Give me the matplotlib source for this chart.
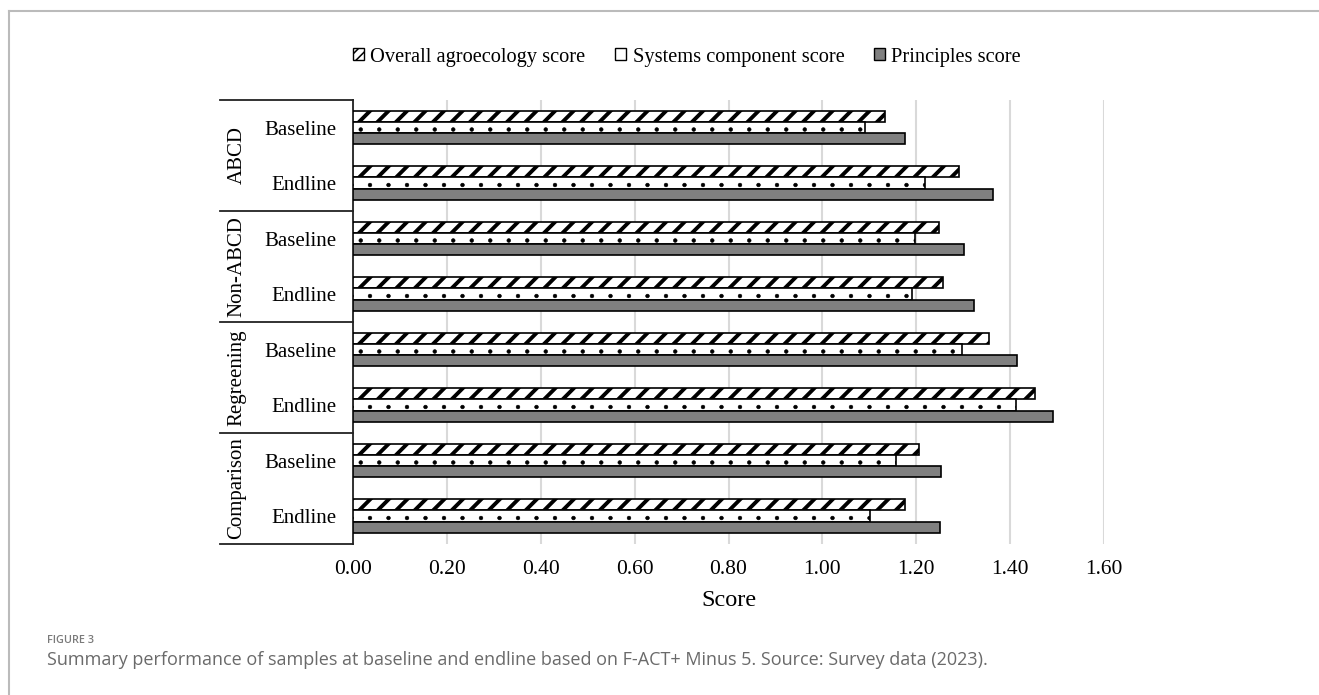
import numpy as np
import matplotlib
matplotlib.use("Agg")
import matplotlib.pyplot as plt
from matplotlib.patches import Patch
from matplotlib.lines import Line2D

# values (score, 0-1.6 scale)
groups = ["ABCD", "Non-ABCD", "Regreening", "Comparison"]
rounds = ["Baseline", "Endline"]
overall = [1.133, 1.292, 1.249, 1.257, 1.356, 1.452, 1.205, 1.177]
systems = [1.090, 1.219, 1.197, 1.191, 1.298, 1.412, 1.156, 1.101]
principles = [1.175, 1.363, 1.301, 1.322, 1.414, 1.492, 1.253, 1.251]
xticks = [0.0, 0.2, 0.4, 0.6, 0.8, 1.0, 1.2, 1.4, 1.6]
series_names = ["Overall agroecology score", "Systems component score", "Principles score"]

serif = "Liberation Serif"
W, H = 1319, 695
DPI = 111          # hatch cell = 1 inch, this makes the dot rows line up with the bars
K = 100 / DPI      # sizes below are written as points at 100 dpi
fig = plt.figure(figsize=(W / DPI + 1e-4, H / DPI + 1e-4), dpi=DPI)
ax = fig.add_axes([353 / W, 1 - 543.75 / H, (1104 - 353) / W, (543.75 - 99.75) / H])

y = np.arange(len(overall))
h = 0.2
grey = "#808080"

with plt.rc_context({"hatch.linewidth": 2.8 * K}):
    ax.barh(y - h, overall, height=h, color="white", edgecolor="black",
            hatch="//", linewidth=1.2 * K, zorder=3)
with plt.rc_context({"hatch.linewidth": 0.4 * K}):
    ax.barh(y, systems, height=h, color="white", edgecolor="black",
            hatch=".", linewidth=1.2 * K, zorder=3)
ax.barh(y + h, principles, height=h, color=grey, edgecolor="black",
        linewidth=1.2 * K, zorder=3)

ax.set_xlim(0, 1.6)
ax.set_ylim(len(overall) - 0.5, -0.5)
ax.set_xticks(xticks)
ax.set_xticklabels([f"{t:.2f}" for t in xticks], fontsize=15.5 * K, family=serif)
ax.tick_params(axis="x", length=0, pad=11.5 * K)
ax.set_yticks(y)
ax.set_yticklabels(rounds * len(groups), fontsize=15 * K, family=serif)
ax.tick_params(axis="y", length=0, pad=12 * K)
ax.grid(axis="x", color="#d9d9d9", linewidth=1.5 * K, zorder=0)
for s in ["top", "right", "bottom"]:
    ax.spines[s].set_visible(False)
ax.spines["left"].set_color("#222222")
ax.spines["left"].set_linewidth(1.3 * K)
ax.set_axisbelow(True)

ax.set_xlabel("Score", fontsize=17.5 * K, family=serif)
ax.xaxis.set_label_coords(0.5, -0.105)

# multi-level category box on the left
left = (220 - 353) / (1104 - 353)
trans = ax.get_yaxis_transform()
for b in np.arange(-0.5, len(overall), 2):
    ax.plot([left, 0], [b, b], color="#222222", lw=1.3 * K, transform=trans, clip_on=False)
for i, g in enumerate(groups):
    ax.text((237 - 353) / (1104 - 353), 2 * i + 0.5, g, rotation=90, ha="center",
            va="center", fontsize=15 * K, family=serif, transform=trans)

# legend
with plt.rc_context({"hatch.linewidth": 1.5 * K}):
    handles = [
        Patch(facecolor="white", edgecolor="black", hatch="////", linewidth=1 * K),
        Patch(facecolor="white", edgecolor="black", hatch="", linewidth=1 * K),
        Patch(facecolor=grey, edgecolor="black", linewidth=1 * K),
    ]
fig.legend(handles, series_names, loc="center", bbox_to_anchor=(687 / W, 1 - 57 / H),
           ncol=3, frameon=False, prop={"family": serif, "size": 14.7 * K},
           handlelength=0.55, handleheight=0.55, handletextpad=0.3, columnspacing=1.45)

# page frame and caption
fig.add_artist(Line2D([9 / W, 1], [1 - 11 / H, 1 - 11 / H], color="#bbbbbb", lw=1.5 * K))
fig.add_artist(Line2D([9 / W, 9 / W], [0, 1 - 11 / H], color="#bbbbbb", lw=1.5 * K))
fig.text(47 / W, 1 - 640 / H, "FIGURE 3", fontsize=7.8 * K, family="Open Sans",
         weight="semibold", color="#7a7a7a", va="center")
fig.text(47 / W, 1 - 660 / H,
         "Summary performance of samples at baseline and endline based on F-ACT+ Minus 5. "
         "Source: Survey data (2023).",
         fontsize=13 * K, family="Open Sans", color="#6a6a6a", va="center")

fig.savefig("out.png", dpi=DPI)
